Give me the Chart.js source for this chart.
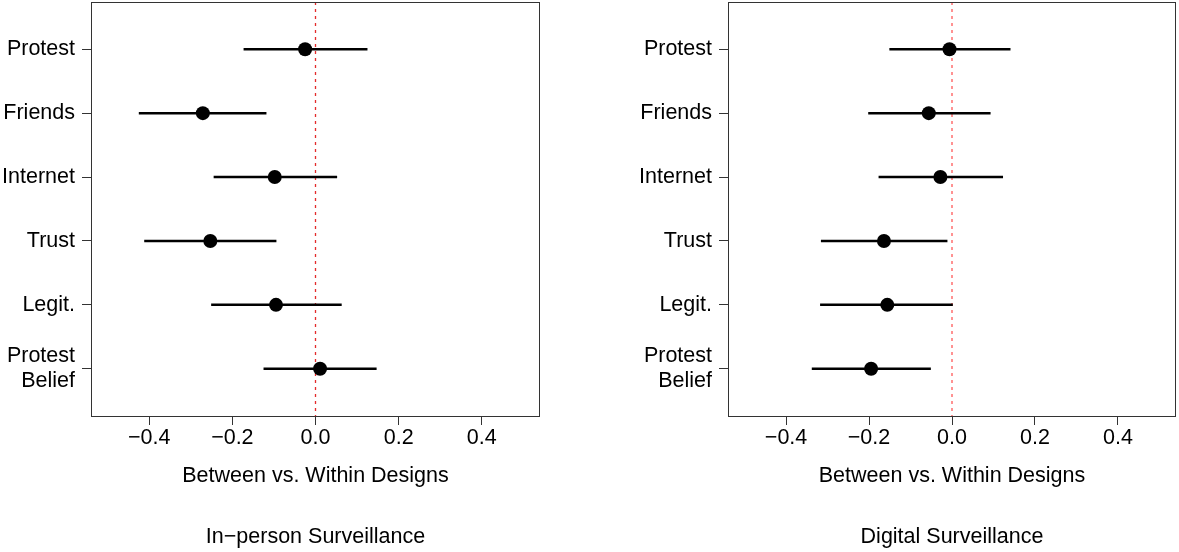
<!DOCTYPE html>
<html>
<head>
<meta charset="utf-8">
<title>Between vs. Within Designs</title>
<script src="https://cdn.jsdelivr.net/npm/chart.js@4.4.0/dist/chart.umd.min.js"></script>
<style>
  html, body { margin: 0; padding: 0; background: #fff; }
  #wrap { position: relative; width: 1179px; height: 552px; overflow: hidden; }
  .panel { position: absolute; top: 0; height: 552px; }
</style>
</head>
<body>
<div id="wrap">
  <div class="panel" style="left:0px;width:590px"><canvas id="chartInPerson" width="590" height="552"></canvas></div>
  <div class="panel" style="left:590px;width:589px"><canvas id="chartDigital" width="589" height="552"></canvas></div>
</div>
<script>
// ---------- data ----------
const categories = ['Protest', 'Friends', 'Internet', 'Trust', 'Legit.', ['Protest', 'Belief']];
const xTicks = [-0.4, -0.2, 0.0, 0.2, 0.4];

const inPersonEst  = [-0.025, -0.271, -0.098, -0.253, -0.095,  0.011];
const inPersonLow  = [-0.173, -0.425, -0.245, -0.412, -0.251, -0.125];
const inPersonHigh = [ 0.125, -0.118,  0.052, -0.094,  0.063,  0.147];

const digitalEst  = [-0.006, -0.056, -0.028, -0.164, -0.156, -0.195];
const digitalLow  = [-0.151, -0.202, -0.177, -0.316, -0.318, -0.338];
const digitalHigh = [ 0.141,  0.093,  0.123, -0.011,  0.002, -0.051];

const xAxisTitle = 'Between vs. Within Designs';

// ---------- common ----------
const FONT = "'Liberation Sans', Arial, Helvetica, sans-serif";
const FONT_SIZE = 21.5;
const X_MIN = -0.54, X_MAX = 0.54;
const Y_MIN = -0.74, Y_MAX = categories.length - 1 + 0.74;

function formatTick(v) {
  if (Math.abs(v) < 1e-9) return '0.0';
  return (v < 0 ? '\u2212' : '') + Math.abs(v).toFixed(1);
}

function noPadding(s) {
  s.paddingTop = 0;
  s.paddingBottom = 0;
  s.paddingLeft = 0;
  s.paddingRight = 0;
}

// box around the plot + titles under it
const framePlugin = {
  id: 'frame',
  afterDraw(chart, args, opts) {
    const ctx = chart.ctx;
    const a = chart.chartArea;
    ctx.save();
    ctx.strokeStyle = '#333';
    ctx.lineWidth = 1;
    ctx.strokeRect(Math.round(a.left) + 0.5, Math.round(a.top) + 0.5,
                   Math.round(a.right - a.left) - 1, Math.round(a.bottom - a.top));
    const cx = (a.left + a.right) / 2;
    ctx.fillStyle = '#000';
    ctx.font = FONT_SIZE + 'px ' + FONT;
    ctx.textAlign = 'center';
    ctx.textBaseline = 'middle';
    ctx.fillText(xAxisTitle, cx, a.bottom + 60);
    ctx.fillText(opts.panelTitle, cx, a.bottom + 121);
    ctx.restore();
  }
};

function crearPanel(canvasId, est, low, high, panelTitle, yAxisWidth, padRight, zeroColor) {

  let datasets = [];

  // points first so they are drawn on top
  datasets.push({
    data: est.map((v, i) => ({ x: v, y: i })),
    pointRadius: 7,
    pointBackgroundColor: '#000',
    pointBorderWidth: 0,
    showLine: false
  });

  for (let i = 0; i < categories.length; i++) {
    datasets.push({
      data: [{ x: low[i], y: i }, { x: high[i], y: i }],
      showLine: true,
      borderColor: '#000',
      borderWidth: 2.5,
      pointRadius: 0
    });
  }

  // reference line at zero
  datasets.push({
    data: [{ x: 0, y: Y_MIN }, { x: 0, y: Y_MAX }],
    showLine: true,
    borderColor: zeroColor,
    borderWidth: 1.3,
    borderDash: [3, 4],
    pointRadius: 0
  });

  let ctx = document.getElementById(canvasId).getContext('2d');

  return new Chart(ctx, {
    type: 'scatter',
    data: { datasets: datasets },
    options: {
      responsive: false,
      animation: false,
      layout: { autoPadding: false, padding: { top: 2, right: padRight, left: 0, bottom: 0 } },
      plugins: {
        legend: { display: false },
        tooltip: { enabled: false },
        frame: { panelTitle: panelTitle }
      },
      scales: {
        x: {
          type: 'linear',
          min: X_MIN,
          max: X_MAX,
          afterBuildTicks: s => { s.ticks = xTicks.map(v => ({ value: v })); },
          afterFit: s => { s.height = 136; noPadding(s); },
          grid: { drawOnChartArea: false, drawTicks: true, tickLength: 9, color: '#333', lineWidth: 1 },
          border: { display: false },
          ticks: {
            color: '#000',
            font: { family: FONT, size: FONT_SIZE },
            padding: 0,
            maxRotation: 0,
            autoSkip: false,
            callback: v => formatTick(v)
          }
        },
        y: {
          type: 'linear',
          reverse: true,
          min: Y_MIN,
          max: Y_MAX,
          afterBuildTicks: s => { s.ticks = categories.map((c, i) => ({ value: i })); },
          afterFit: s => { s.width = yAxisWidth; noPadding(s); },
          grid: { drawOnChartArea: false, drawTicks: true, tickLength: 9, color: '#333', lineWidth: 1 },
          border: { display: false },
          ticks: {
            color: '#000',
            font: { family: FONT, size: FONT_SIZE, lineHeight: 1.17 },
            padding: 7,
            autoSkip: false,
            callback: v => categories[v]
          }
        }
      }
    },
    plugins: [framePlugin]
  });
}

crearPanel('chartInPerson', inPersonEst, inPersonLow, inPersonHigh,
           'In\u2212person Surveillance', 91, 50, 'rgba(225, 20, 20, 0.9)');
crearPanel('chartDigital', digitalEst, digitalLow, digitalHigh,
           'Digital Surveillance', 138, 3, 'rgba(255, 70, 70, 0.9)');
</script>
</body>
</html>
